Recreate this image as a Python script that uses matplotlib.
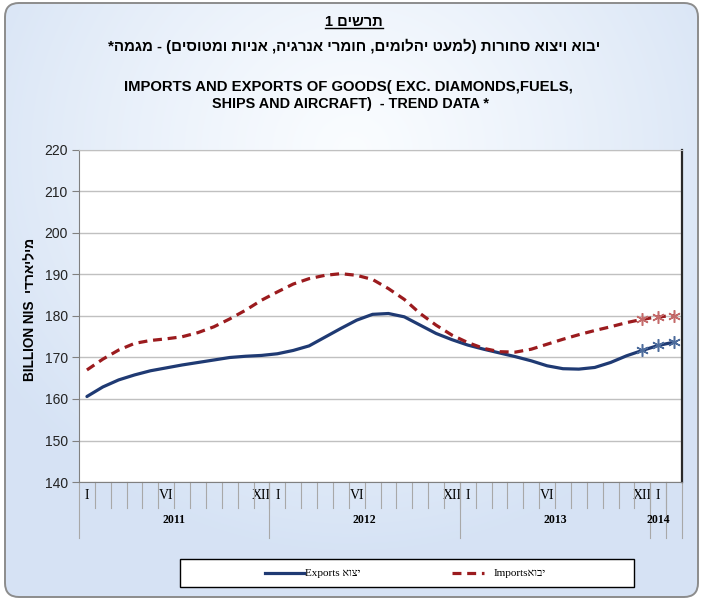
import numpy as np
import matplotlib
matplotlib.use("agg")
import matplotlib.pyplot as plt
from matplotlib.patches import FancyBboxPatch, Rectangle
from matplotlib.lines import Line2D
from matplotlib.transforms import blended_transform_factory

# data (billion NIS, monthly, Jan 2011 - Feb 2014)
month_labels = ["I", "", "", "", "", "VI", "", "", "", "", "", "XII"] * 3 + ["I", ""]
year_labels = ["2011", "2012", "2013", "2014", ""]
year_lengths = [12, 12, 12, 1, 1]
exports = [160.6, 162.9, 164.6, 165.8, 166.8, 167.5, 168.2, 168.8, 169.4, 170.0,
           170.3, 170.5, 170.9, 171.7, 172.8, 174.9, 177.0, 179.0, 180.4, 180.6,
           179.8, 177.8, 175.8, 174.3, 173.0, 172.0, 171.1, 170.2, 169.2, 168.0,
           167.3, 167.2, 167.6, 168.8, 170.4, 171.7, 172.9, 173.7]
imports = [167.0, 169.6, 171.8, 173.4, 174.1, 174.5, 175.0, 176.0, 177.4, 179.3,
           181.4, 183.8, 185.8, 187.7, 189.0, 189.8, 190.2, 189.8, 188.8, 186.6,
           184.0, 180.6, 177.8, 175.4, 173.6, 172.2, 171.4, 171.3, 172.0, 173.2,
           174.4, 175.5, 176.5, 177.4, 178.4, 179.2, 179.8, 180.1]
estimated = [35, 36, 37]
y_ticks = [140, 150, 160, 170, 180, 190, 200, 210, 220]

EXP_COLOR = "#1f3a73"
IMP_COLOR = "#9b1b1e"
SANS = ["Liberation Sans", "DejaVu Sans"]
SERIF = ["Liberation Serif", "DejaVu Serif", "DejaVu Sans"]


def rtl(s):
    """Hebrew in visual order, since matplotlib lays text out left to right."""
    out = s[::-1]
    return out.translate(str.maketrans("()", ")("))


W, H = 703, 601
fig = plt.figure(figsize=(W / 100, H / 100), dpi=100)

# chart-area background: rounded box with a soft blue glow
bg = fig.add_axes([0, 0, 1, 1], zorder=-5)
bg.set_xlim(0, W)
bg.set_ylim(H, 0)
bg.axis("off")
yy, xx = np.mgrid[0:H, 0:W]
t = np.clip(np.hypot((xx - 352) / 420.0, (yy - 150) / 400.0), 0, 1) ** 1.2
edge = np.array([0.84, 0.89, 0.96])
img = (1 - t)[..., None] * np.array([0.98, 0.99, 1.0]) + t[..., None] * edge
frame = FancyBboxPatch((5, 3), 693, 594, boxstyle="round,pad=0,rounding_size=14",
                       facecolor="none", edgecolor="#8c8c8c", lw=1.4)
bg.add_patch(frame)
im = bg.imshow(img, extent=(0, W, H, 0), aspect="auto")
im.set_clip_path(frame)

# titles
t1 = fig.text(354 / W, 1 - 22 / H, rtl("תרשים 1"), ha="center", va="center",
              fontsize=10.5, fontweight="bold", family=SANS)
fig.text(354 / W, 1 - 46 / H,
         rtl("יבוא ויצוא סחורות (למעט יהלומים, חומרי אנרגיה, אניות ומטוסים) - מגמה*"),
         ha="center", va="center", fontsize=10.8, fontweight="bold", family=SANS)
fig.text(348 / W, 1 - 87 / H, "IMPORTS AND EXPORTS OF GOODS( EXC. DIAMONDS,FUELS,",
         ha="center", va="center", fontsize=10.7, fontweight="bold", family=SANS)
fig.text(351 / W, 1 - 104 / H, "SHIPS AND AIRCRAFT)  - TREND DATA *",
         ha="center", va="center", fontsize=10.4, fontweight="bold", family=SANS)

# plot area
ax = fig.add_axes([79 / W, 1 - 482 / H, 603 / W, 332 / H])
ax.set_facecolor("white")
x = np.arange(len(exports))
ax.plot(x, exports, color=EXP_COLOR, lw=2.3, solid_capstyle="round", zorder=3)
ax.plot(x, imports, color=IMP_COLOR, lw=2.3, dashes=(2.8, 1.8), zorder=3)
ax.plot(x[estimated], np.array(exports)[estimated], ls="none", marker=(6, 2, 0),
        ms=9, mew=1.1, color="#4d6c9c", zorder=4)
ax.plot(x[estimated], np.array(imports)[estimated], ls="none", marker=(6, 2, 0),
        ms=9, mew=1.1, color="#c46a6a", zorder=4)

ax.set_xlim(-0.5, len(exports) - 0.5)
ax.set_ylim(y_ticks[0], y_ticks[-1])
ax.set_yticks(y_ticks)
ax.yaxis.grid(True, color="#c0c0c0", lw=1)
ax.set_axisbelow(True)
ax.tick_params(axis="y", length=5, color="#808080", labelsize=10, pad=3)
for lab in ax.get_yticklabels():
    lab.set_family(SANS)
    lab.set_color("#222222")
for side in ["left", "bottom"]:
    ax.spines[side].set_color("#808080")
ax.spines["top"].set_color("#c0c0c0")
ax.spines["right"].set_color("#2a2a2a")
ax.spines["right"].set_linewidth(1.6)

ax.set_xticks(x)
ax.set_xticklabels(month_labels, family=SERIF, fontsize=10)
ax.tick_params(axis="x", length=0, pad=5)

# multi-level category axis lines
trans = blended_transform_factory(ax.transData, ax.transAxes)
ph = 332.0
for b in x[1:]:
    ax.plot([b - 0.5, b - 0.5], [0, -26 / ph], color="#a8a8a8", lw=0.8,
            transform=trans, clip_on=False)
start = 0
bounds = [-0.5]
for label, n in zip(year_labels, year_lengths):
    ax.text(start - 0.5 + n / 2, -38 / ph, label, transform=trans, ha="center",
            va="center", fontsize=8.5, family=SERIF, fontweight="bold")
    start += n
    bounds.append(start - 0.5)
for b in bounds:
    ax.plot([b, b], [0, -56 / ph], color="#a8a8a8", lw=0.8, transform=trans,
            clip_on=False)

ax.set_ylabel("BILLION NIS  " + rtl("מיליארדי"), fontsize=9.8, fontweight="bold",
              family=SANS, labelpad=4)
ax.yaxis.set_label_coords(-42 / 603, 0.52)

# legend box
lg = fig.add_axes([0, 0, 1, 1], zorder=5)
lg.set_xlim(0, W)
lg.set_ylim(H, 0)
lg.axis("off")
lg.add_patch(Rectangle((180, 559), 454, 28, facecolor="white", edgecolor="black", lw=1))
lg.add_line(Line2D([265, 304], [573, 573], color=EXP_COLOR, lw=2.3))
lg.text(305, 573, "Exports " + rtl("יצוא"), va="center", ha="left", fontsize=8,
        family=SERIF)
lg.add_line(Line2D([452, 484], [573, 573], color=IMP_COLOR, lw=2.3, dashes=(2.8, 1.8)))
lg.text(494, 573, "Imports" + rtl("יבוא"), va="center", ha="left", fontsize=8,
        family=SERIF)

# underline for the chart number
fig.canvas.draw()
bb = t1.get_window_extent().transformed(fig.transFigure.inverted())
fig.add_artist(Line2D([bb.x0, bb.x1], [bb.y0 + 0.002, bb.y0 + 0.002], color="black",
                      lw=1, transform=fig.transFigure))

fig.savefig("out.png", dpi=100)
